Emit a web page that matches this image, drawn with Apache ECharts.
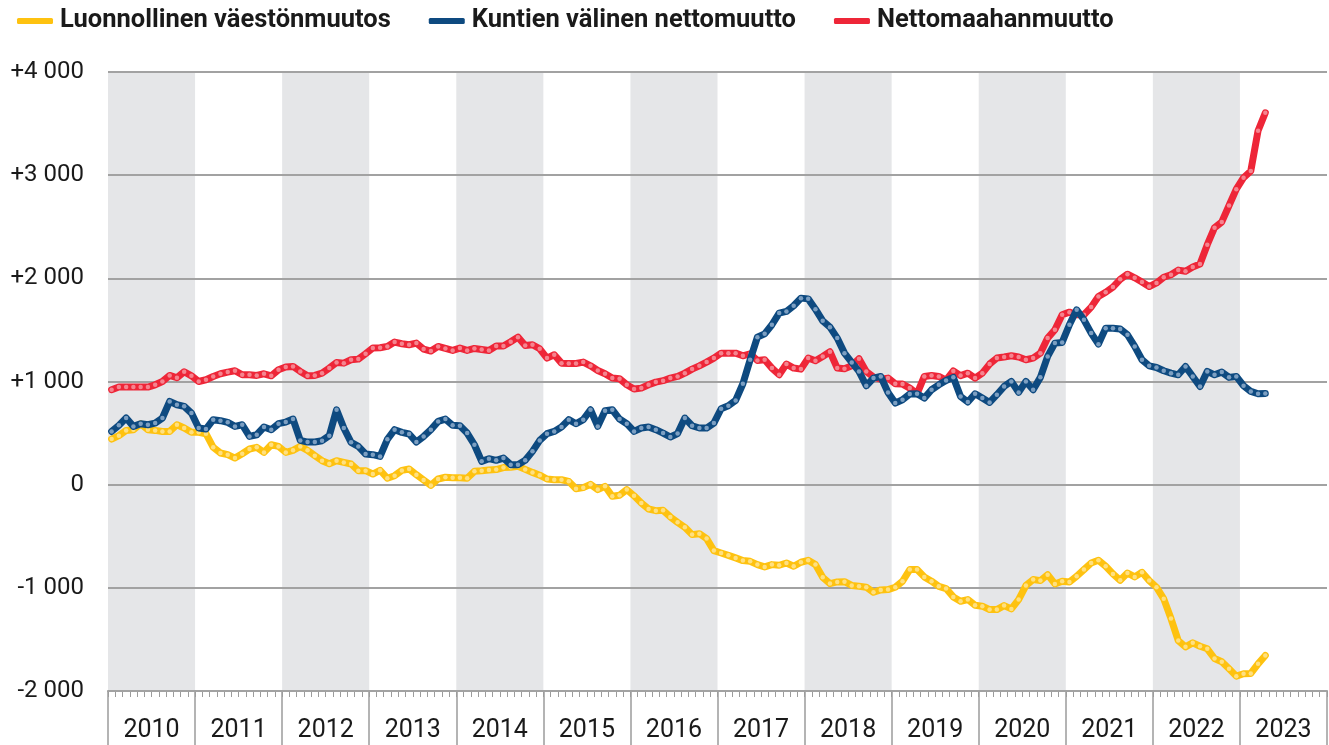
<!DOCTYPE html>
<html>
<head>
<meta charset="utf-8">
<script src="https://cdn.jsdelivr.net/npm/echarts@6/dist/echarts.min.js"></script>
<style>
html,body{margin:0;padding:0;background:#fff;}
#chart{width:1329px;height:745px;}
</style>
</head>
<body>
<div id="chart"></div>
<script>
// Tick labels / categories
var years = ['2010','2011','2012','2013','2014','2015','2016','2017','2018','2019','2020','2021','2022','2023'];
var yTicks = [-2000, -1000, 0, 1000, 2000, 3000, 4000];
var seriesNames = ['Luonnollinen väestönmuutos', 'Kuntien välinen nettomuutto', 'Nettomaahanmuutto'];

// Monthly values, Jan 2010 – Apr 2023
var luonnollinen = [
  442, 475, 526, 533, 590, 533, 526, 516, 516, 581, 549, 507,
  507, 494, 362, 307, 291, 258, 300, 346, 362, 313, 387, 371,
  313, 333, 371, 333, 281, 232, 203, 232, 216, 200, 136, 136,
  103, 140, 62, 87, 138, 152, 97, 45, -7, 55, 72, 67,
  68, 62, 129, 134, 142, 146, 166, 168, 178, 148, 119, 92,
  55, 48, 48, 32, -40, -29, 3, -48, -16, -113, -102, -48,
  -108, -178, -236, -252, -249, -313, -365, -413, -484, -475, -523, -639,
  -662, -685, -710, -736, -743, -775, -797, -775, -781, -759, -791, -752,
  -733, -775, -898, -959, -943, -940, -977, -985, -994, -1043, -1020, -1017,
  -994, -936, -823, -823, -894, -936, -985, -1007, -1088, -1130, -1114, -1169,
  -1178, -1211, -1211, -1172, -1204, -1114, -978, -920, -930, -872, -962, -936,
  -943, -888, -823, -759, -733, -791, -865, -927, -856, -894, -849, -930,
  -994, -1107, -1298, -1511, -1572, -1533, -1566, -1591, -1685, -1717, -1785, -1856,
  -1833, -1830, -1737, -1656
];
var kuntienValinen = [
  516, 575, 646, 565, 591, 581, 597, 646, 807, 775, 759, 694,
  549, 539, 630, 620, 604, 565, 581, 468, 484, 559, 533, 591,
  607, 636, 429, 413, 413, 426, 475, 726, 549, 410, 371, 297,
  291, 274, 440, 533, 507, 491, 413, 468, 533, 613, 636, 575,
  571, 500, 387, 226, 252, 236, 258, 194, 194, 236, 323, 429,
  494, 516, 559, 630, 591, 630, 726, 565, 717, 726, 636, 591,
  516, 549, 559, 533, 500, 462, 495, 646, 571, 549, 549, 597,
  736, 765, 817, 978, 1211, 1430, 1462, 1550, 1663, 1679, 1734, 1808,
  1801, 1701, 1588, 1527, 1421, 1275, 1185, 1098, 959, 1033, 1049, 894,
  791, 823, 878, 881, 839, 920, 968, 1010, 1040, 855, 801, 881,
  839, 797, 872, 952, 1001, 894, 1001, 920, 1040, 1243, 1372, 1379,
  1550, 1695, 1598, 1469, 1362, 1517, 1517, 1508, 1453, 1340, 1211, 1152,
  1136, 1104, 1081, 1065, 1146, 1049, 952, 1098, 1065, 1091, 1040, 1049,
  959, 904, 881, 884
];
var nettomaahanmuutto = [
  920, 946, 946, 946, 946, 946, 968, 1000, 1059, 1036, 1094, 1055,
  1000, 1017, 1049, 1075, 1091, 1104, 1065, 1065, 1059, 1075, 1055, 1114,
  1140, 1146, 1098, 1055, 1059, 1081, 1130, 1185, 1178, 1211, 1217, 1269,
  1324, 1327, 1340, 1382, 1366, 1356, 1372, 1314, 1295, 1340, 1320, 1301,
  1324, 1301, 1320, 1311, 1301, 1343, 1343, 1385, 1430, 1349, 1356, 1317,
  1227, 1259, 1178, 1175, 1175, 1188, 1152, 1107, 1075, 1033, 1027, 968,
  927, 936, 968, 994, 1008, 1033, 1049, 1081, 1120, 1152, 1188, 1227,
  1275, 1275, 1275, 1249, 1269, 1204, 1211, 1130, 1065, 1169, 1130, 1120,
  1227, 1201, 1243, 1288, 1130, 1123, 1152, 1220, 1098, 1043, 1023, 1033,
  978, 975, 936, 881, 1049, 1059, 1049, 1013, 1102, 1057, 1081, 1033,
  1081, 1169, 1227, 1237, 1249, 1237, 1211, 1227, 1275, 1421, 1501, 1647,
  1672, 1647, 1647, 1721, 1824, 1865, 1915, 1990, 2040, 2005, 1965, 1920,
  1955, 2010, 2035, 2080, 2068, 2110, 2138, 2326, 2491, 2547, 2706, 2864,
  2975, 3041, 3431, 3605
];

// month categories built from years
var months = [];
years.forEach(function (y) { for (var m = 1; m <= 12; m++) months.push(y + '-' + (m < 10 ? '0' + m : m)); });

function fmtY(v) {
  if (v === 0) return '0';
  var s = Math.abs(v).toString().replace(/\B(?=(\d{3})+(?!\d))/g, ' ');
  return (v > 0 ? '+' : '-') + s;
}

var FONT = 'Roboto';
var chart = echarts.init(document.getElementById('chart'), null, {renderer: 'canvas'});
var colors = {
  y: {line: '#FEC210', dot: '#FFE080'},
  b: {line: '#0E4A80', dot: '#7C9FC2'},
  r: {line: '#EE2638', dot: '#F5848F'}
};
function mkSeries(name, data, c, z) {
  return {
    name: name, type: 'line', xAxisIndex: 0, yAxisIndex: 0, data: data,
    symbol: 'circle', symbolSize: 4.5, showAllSymbol: true,
    lineStyle: {width: 7, color: c.line, cap: 'round', join: 'round'},
    itemStyle: {color: c.dot, borderWidth: 0},
    emphasis: {disabled: true}, z: z, silent: true
  };
}
chart.setOption({
  animation: false,
  textStyle: {fontFamily: FONT},
  legend: {
    top: 3, left: 12, itemWidth: 36, itemHeight: 6, itemGap: 38, icon: 'roundRect',
    selectedMode: false,
    textStyle: {fontFamily: FONT, fontSize: 25.5, fontWeight: 'bold', color: '#1a1a1a', padding: [0, 0, 0, 2]},
    data: [
      {name: seriesNames[0], itemStyle: {color: colors.y.line}},
      {name: seriesNames[1], itemStyle: {color: colors.b.line}},
      {name: seriesNames[2], itemStyle: {color: colors.r.line}}
    ]
  },
  grid: {left: 108, right: 2, top: 72, bottom: 54, containLabel: false},
  xAxis: [
    {
      type: 'category', data: months, boundaryGap: true, position: 'bottom',
      axisLine: {show: true, onZero: false, lineStyle: {color: '#9c9c9c', width: 2}},
      axisTick: {show: true, interval: 0, length: 6, lineStyle: {color: '#9c9c9c', width: 1}},
      axisLabel: {show: false}, splitLine: {show: false}
    },
    {
      type: 'category', data: years, boundaryGap: true, position: 'bottom', z: -1,
      axisLine: {show: false, onZero: false},
      axisTick: {show: true, interval: 0, length: 56, lineStyle: {color: '#9c9c9c', width: 1.5}},
      axisLabel: {show: true, interval: 0, margin: 27, fontSize: 25, color: '#1a1a1a', fontFamily: FONT},
      splitLine: {show: false},
      splitArea: {show: true, interval: 0, areaStyle: {color: ['#e5e6e8', 'rgba(255,255,255,0)']}}
    }
  ],
  yAxis: {
    type: 'value', min: yTicks[0], max: yTicks[yTicks.length - 1], interval: 1000, z: 1,
    axisLine: {show: false}, axisTick: {show: false},
    axisLabel: {margin: 24, fontSize: 24, color: '#1a1a1a', fontFamily: FONT, formatter: fmtY},
    splitLine: {show: true, lineStyle: {color: '#a2a2a2', width: 2}}
  },
  series: [
    mkSeries(seriesNames[0], luonnollinen, colors.y, 2),
    mkSeries(seriesNames[2], nettomaahanmuutto, colors.r, 3),
    mkSeries(seriesNames[1], kuntienValinen, colors.b, 4)
  ]
});
</script>
</body>
</html>
